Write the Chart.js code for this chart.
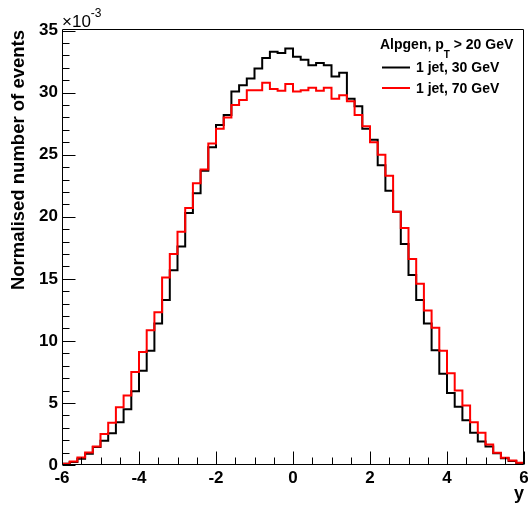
<!DOCTYPE html>
<html>
<head>
<meta charset="utf-8">
<script src="https://cdn.jsdelivr.net/npm/chart.js@4.4.1/dist/chart.umd.min.js"></script>
<style>
  html, body { margin: 0; padding: 0; background: #fff; }
  #c { display: block; }
</style>
</head>
<body>
<canvas id="c" width="528" height="505"></canvas>
<script>
// ---- data (values in units of 1e-3) ----
const xMin = -6;
const binWidth = 0.2;
const jet30 = [0.1, 0.25, 0.5, 0.9, 1.45, 1.95, 2.55, 3.45, 4.5, 5.95,
               7.6, 9.2, 11.4, 13.3, 15.7, 17.6, 20.3, 21.9, 23.7, 25.6,
               27.4, 28.2, 30.1, 30.6, 31.15, 31.95, 32.8, 33.3, 33.2, 33.55,
               32.9, 32.65, 32.2, 32.4, 32.2, 31.3, 31.6, 29.5, 28.9, 27.1,
               26.2, 24.15, 22.1, 20.4, 17.8, 15.3, 13.3, 11.4, 9.25, 7.35,
               5.8, 4.7, 3.6, 2.6, 1.9, 1.5, 0.95, 0.55, 0.33, 0.15];
const jet70 = [0.1, 0.28, 0.6, 1.0, 1.5, 2.5, 3.4, 4.65, 5.6, 7.5,
               9.1, 10.85, 12.3, 15.1, 17.0, 18.8, 20.7, 22.7, 23.8, 25.9,
               27.1, 28.0, 29.0, 29.4, 30.2, 30.2, 30.8, 30.3, 30.15, 30.7,
               30.1, 30.2, 30.4, 30.15, 30.4, 29.5, 29.8, 29.3, 28.2, 27.3,
               26.0, 25.0, 23.3, 20.4, 19.1, 16.6, 14.6, 12.45, 11.05, 9.2,
               7.4, 6.0, 4.8, 3.45, 2.6, 1.65, 0.98, 0.58, 0.36, 0.18];
const xTickLabels = [-6, -4, -2, 0, 2, 4, 6];
const yTickLabels = [0, 5, 10, 15, 20, 25, 30, 35];
const seriesLabels = ['1 jet, 30 GeV', '1 jet, 70 GeV'];
const legendHeader = ['Alpgen, p', 'T', ' > 20 GeV'];
const xTitle = 'y';
const yTitle = 'Normalised number of events';

function histPoints(vals) {
  const pts = vals.map((v, i) => ({ x: xMin + i * binWidth, y: v }));
  pts.push({ x: xMin + vals.length * binWidth, y: vals[vals.length - 1] });
  return pts;
}

const FONT = '"Liberation Sans", Arial, Helvetica, sans-serif';

const rootStyle = {
  id: 'rootStyle',
  afterDraw(chart) {
    const { ctx, chartArea: a, scales } = chart;
    const xs = scales.x, ys = scales.y;
    ctx.save();
    ctx.strokeStyle = '#000';
    ctx.lineWidth = 1;
    const L = Math.round(a.left) + 0.5, R = Math.round(a.right) - 0.5;
    const T = Math.round(a.top) + 0.5, B = Math.round(a.bottom) - 0.5;
    ctx.beginPath();
    ctx.rect(L, T, R - L, B - T);
    // x ticks
    for (let k = 0; k <= 24; k++) {
      const v = -6 + k * 0.5;
      const px = Math.round(xs.getPixelForValue(v)) + 0.5;
      const len = (k % 4 === 0) ? 13 : 7;
      ctx.moveTo(px, B); ctx.lineTo(px, B - len);
    }
    // y ticks
    for (let v = 0; v <= 35; v++) {
      const py = Math.round(ys.getPixelForValue(v)) + 0.5;
      const len = (v % 5 === 0) ? 13 : 7;
      ctx.moveTo(L, py); ctx.lineTo(L + len, py);
    }
    ctx.stroke();

    ctx.fillStyle = '#000';
    // y title
    ctx.save();
    ctx.translate(19, a.top + 1);
    ctx.rotate(-Math.PI / 2);
    ctx.font = 'bold 18.5px ' + FONT;
    ctx.textAlign = 'right';
    ctx.textBaseline = 'middle';
    ctx.fillText(yTitle, 0, 0);
    ctx.restore();
    // x title
    ctx.font = 'bold 18px ' + FONT;
    ctx.textAlign = 'right';
    ctx.textBaseline = 'alphabetic';
    ctx.fillText(xTitle, a.right, 499);
    // exponent
    ctx.textAlign = 'left';
    ctx.font = '17px ' + FONT;
    ctx.fillText('\u00d710', a.left, 27);
    const w10 = ctx.measureText('\u00d710').width;
    ctx.font = '12px ' + FONT;
    ctx.fillText('-3', a.left + w10, 17);

    // legend
    let lx = 380;
    ctx.font = 'bold 14px ' + FONT;
    ctx.fillText(legendHeader[0], lx, 48.5);
    lx += ctx.measureText(legendHeader[0]).width;
    ctx.font = 'bold 10px ' + FONT;
    ctx.fillText(legendHeader[1], lx, 58);
    lx += ctx.measureText(legendHeader[1]).width;
    ctx.font = 'bold 14px ' + FONT;
    ctx.fillText(legendHeader[2], lx, 48.5);

    const ds = chart.data.datasets;
    const rows = [67.5, 88];
    ds.forEach((d, i) => {
      ctx.strokeStyle = d.borderColor;
      ctx.lineWidth = 2;
      ctx.beginPath();
      ctx.moveTo(382, rows[i]); ctx.lineTo(410, rows[i]);
      ctx.stroke();
      ctx.fillStyle = '#000';
      ctx.font = 'bold 14px ' + FONT;
      ctx.fillText(d.label, 416, rows[i] + 4.8);
    });
    ctx.restore();
  }
};

new Chart(document.getElementById('c'), {
  type: 'line',
  data: {
    datasets: [
      { label: seriesLabels[0], data: histPoints(jet30), borderColor: '#000000',
        borderWidth: 2, stepped: true, pointRadius: 0, fill: false, order: 1 },
      { label: seriesLabels[1], data: histPoints(jet70), borderColor: '#ff0000',
        borderWidth: 2, stepped: true, pointRadius: 0, fill: false, order: 0 }
    ]
  },
  options: {
    responsive: false,
    animation: false,
    devicePixelRatio: 1,
    layout: { padding: { top: 29, right: 4, left: 0, bottom: 0 } },
    plugins: { legend: { display: false }, tooltip: { enabled: false } },
    scales: {
      x: {
        type: 'linear', min: -6, max: 6,
        grid: { display: false, drawTicks: false },
        border: { display: false },
        afterBuildTicks: s => { s.ticks = xTickLabels.map(v => ({ value: v })); },
        afterFit: s => { s.height = 40; s.paddingLeft = 0; s.paddingRight = 0; },
        ticks: { padding: 3, maxRotation: 0, autoSkip: false, color: '#000',
                 font: { family: FONT, size: 17, weight: 'bold' },
                 callback: v => String(v) }
      },
      y: {
        type: 'linear', min: 0, max: 35.13,
        grid: { display: false, drawTicks: false },
        border: { display: false },
        afterBuildTicks: s => { s.ticks = yTickLabels.map(v => ({ value: v })); },
        afterFit: s => { s.width = 62; s.paddingTop = 0; s.paddingBottom = 0; },
        ticks: { padding: 4, color: '#000',
                 font: { family: FONT, size: 17, weight: 'bold' },
                 callback: v => String(v) }
      }
    }
  },
  plugins: [rootStyle]
});
</script>
</body>
</html>
